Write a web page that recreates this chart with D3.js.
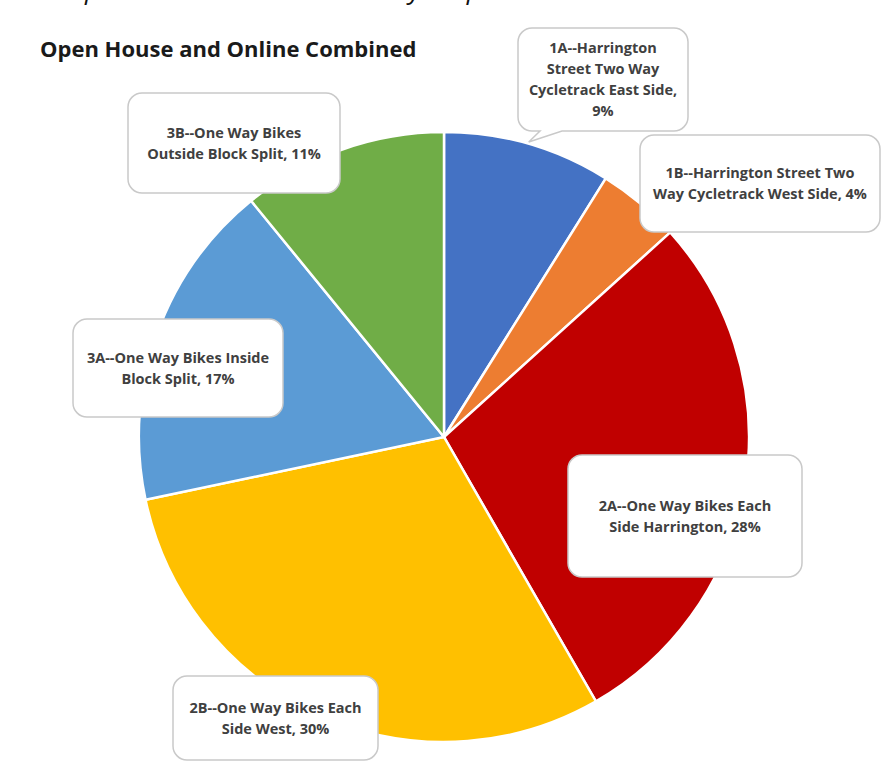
<!DOCTYPE html>
<html>
<head>
<meta charset="utf-8">
<script src="https://cdn.jsdelivr.net/npm/d3@7"></script>
<style>
  body { margin: 0; background: #fff; }
  text { font-family: "Open Sans", sans-serif; }
</style>
</head>
<body>
<div id="chart"></div>
<script>
var codes = ["1A", "1B", "2A", "2B", "3A", "3B"]
var names = [
    "Harrington Street Two Way Cycletrack East Side",
    "Harrington Street Two Way Cycletrack West Side",
    "One Way Bikes Each Side Harrington",
    "One Way Bikes Each Side West",
    "One Way Bikes Inside Block Split",
    "One Way Bikes Outside Block Split"
]
var shares = [8.9, 4.4, 28.4, 30.0, 17.4, 10.9]
var colors = ["#4472c4", "#ed7d31", "#c00000", "#ffc000", "#5b9bd5", "#70ad47"]

// label lines as wrapped in the callouts
var labelLines = [
    ["1A--Harrington", "Street Two Way", "Cycletrack East Side,", "{p}"],
    ["1B--Harrington Street Two", "Way Cycletrack West Side, {p}"],
    ["2A--One Way Bikes Each", "Side Harrington, {p}"],
    ["2B--One Way Bikes Each", "Side West, {p}"],
    ["3A--One Way Bikes Inside", "Block Split, {p}"],
    ["3B--One Way Bikes", "Outside Block Split, {p}"]
]

var width = 887, height = 767
var cx = 444, cy = 437, radius = 305

var svg = d3.select("#chart").append("svg")
    .attr("width", width)
    .attr("height", height)

// caption of the page, cut off at the top like in the source
svg.append("text")
    .attr("x", 2).attr("y", -1)
    .style("font-style", "italic")
    .style("font-size", "26px")
    .attr("fill", "#111")
    .text("Total Open House and Online Survey Responses")

svg.append("text")
    .attr("x", 40).attr("y", 57)
    .style("font-weight", "bold")
    .style("font-size", "22px")
    .attr("fill", "#1a1a1a")
    .text("Open House and Online Combined")

var data = codes.map(function(c, i){
    return {code: c, name: names[i], value: shares[i], color: colors[i], lines: labelLines[i]}
})

var pie = d3.pie().sort(null).value(function(d){ return d.value })
var arc = d3.arc().innerRadius(0).outerRadius(radius)

var g = svg.append("g").attr("transform", "translate(" + cx + "," + cy + ")")

var arcs = pie(data)

g.selectAll(".slice")
    .data(arcs).enter().append("path")
    .attr("class", "slice")
    .attr("d", arc)
    .attr("fill", function(d){ return d.data.color })
    .attr("stroke", "#fff")
    .attr("stroke-width", 2.5)

// callout boxes (layout only: box positions in page px)
var boxes = {
    "1A": {x: 518, y: 28, w: 170, h: 103, tail: true},
    "1B": {x: 640, y: 135, w: 240, h: 97},
    "2A": {x: 568, y: 455, w: 234, h: 122},
    "2B": {x: 173, y: 676, w: 205, h: 84},
    "3A": {x: 73, y: 319, w: 210, h: 98},
    "3B": {x: 128, y: 93, w: 212, h: 100}
}

function calloutPath(b, tip){
    var r = 14, x = b.x, y = b.y, w = b.w, h = b.h
    var p = d3.path()
    p.moveTo(x + r, y)
    p.lineTo(x + w - r, y)
    p.arcTo(x + w, y, x + w, y + r, r)
    p.lineTo(x + w, y + h - r)
    p.arcTo(x + w, y + h, x + w - r, y + h, r)
    if (tip) {
        p.lineTo(x + 44, y + h)
        p.lineTo(tip[0], tip[1])
        p.lineTo(x + 22, y + h)
    }
    p.lineTo(x + r, y + h)
    p.arcTo(x, y + h, x, y + h - r, r)
    p.lineTo(x, y + r)
    p.arcTo(x, y, x + r, y, r)
    p.closePath()
    return p.toString()
}

var labels = svg.selectAll(".callout")
    .data(arcs).enter().append("g")
    .attr("class", "callout")

labels.append("path")
    .attr("d", function(d){
        var b = boxes[d.data.code]
        var tip = null
        if (b.tail) {
            var mid = (d.startAngle + d.endAngle) / 2
            tip = [cx + Math.sin(mid) * (radius + 2), cy - Math.cos(mid) * (radius + 2)]
        }
        return calloutPath(b, tip)
    })
    .attr("fill", "#fff")
    .attr("stroke", "#c9c9c9")
    .attr("stroke-width", 1.5)

labels.each(function(d){
    var b = boxes[d.data.code]
    var pct = Math.round(d.data.value) + "%"
    var lines = d.data.lines.map(function(s){ return s.replace("{p}", pct) })
    var lh = 21
    var y0 = b.y + b.h / 2 - (lines.length - 1) * lh / 2 + 5
    var t = d3.select(this).append("text")
        .attr("text-anchor", "middle")
        .attr("fill", "#404040")
        .style("font-size", "14.5px")
        .style("font-weight", "bold")
    lines.forEach(function(s, i){
        t.append("tspan")
            .attr("x", b.x + b.w / 2)
            .attr("y", y0 + i * lh)
            .text(s)
    })
})
</script>
</body>
</html>
